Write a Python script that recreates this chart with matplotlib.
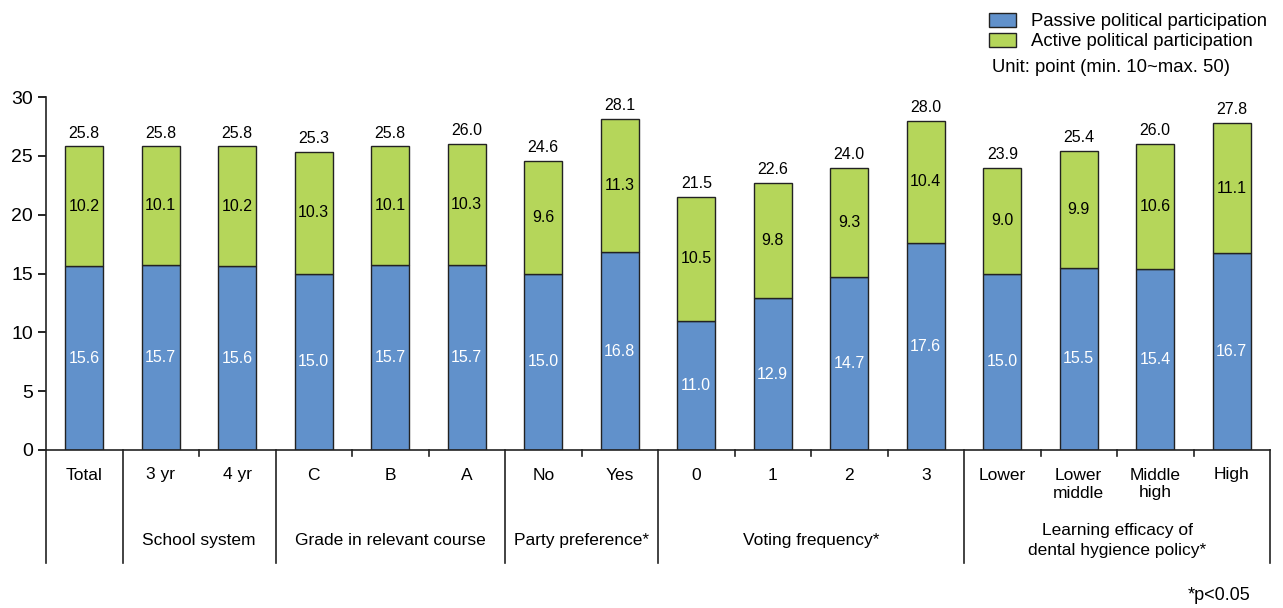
import numpy as np
import matplotlib.pyplot as plt

plt.rcParams['font.family'] = ['Liberation Sans', 'DejaVu Sans']

categories = ['Total', '3 yr', '4 yr', 'C', 'B', 'A', 'No', 'Yes', '0', '1', '2', '3',
              'Lower', 'Lower\nmiddle', 'Middle\nhigh', 'High']
passive = [15.6, 15.7, 15.6, 15.0, 15.7, 15.7, 15.0, 16.8, 11.0, 12.9, 14.7, 17.6,
           15.0, 15.5, 15.4, 16.7]
active = [10.2, 10.1, 10.2, 10.3, 10.1, 10.3, 9.6, 11.3, 10.5, 9.8, 9.3, 10.4,
          9.0, 9.9, 10.6, 11.1]
totals = [25.8, 25.8, 25.8, 25.3, 25.8, 26.0, 24.6, 28.1, 21.5, 22.6, 24.0, 28.0,
          23.9, 25.4, 26.0, 27.8]
groups = ['', 'School system', 'Grade in relevant course', 'Party preference*',
          'Voting frequency*', 'Learning efficacy of\ndental hygience policy*']
group_sizes = [1, 2, 3, 2, 4, 4]

blue = '#6191cb'
green = '#b5d65a'

fig = plt.figure(figsize=(12.83, 6.08), dpi=100)
ax = fig.add_axes([46 / 1283, 1 - 450 / 608, (1270 - 46) / 1283, 353 / 608])

x = np.arange(len(categories))
ax.bar(x, passive, width=0.5, color=blue, edgecolor='#222222', linewidth=1, label='Passive political participation')
ax.bar(x, active, width=0.5, bottom=passive, color=green, edgecolor='#222222', linewidth=1,
       label='Active political participation')

for i in range(len(categories)):
    ax.text(x[i], passive[i] / 2, f'{passive[i]:.1f}', ha='center', va='center', color='white', fontsize=11.5)
    ax.text(x[i], passive[i] + active[i] / 2, f'{active[i]:.1f}', ha='center', va='center', color='black', fontsize=11.5)
    ax.text(x[i], passive[i] + active[i] + 0.5, f'{totals[i]:.1f}', ha='center', va='bottom', color='black', fontsize=11.5)

ax.set_xlim(-0.5, len(categories) - 0.5)
ax.set_ylim(0, 30)
ax.set_yticks(range(0, 31, 5))
ax.tick_params(axis='y', labelsize=14, length=6, width=1.2, direction='out')
ax.set_xticks([])
for s in ['top', 'right']:
    ax.spines[s].set_visible(False)
for s in ['left', 'bottom']:
    ax.spines[s].set_linewidth(1.2)
    ax.spines[s].set_color('#222222')

tr = ax.get_xaxis_transform()
# category labels, one text per line
for i, c in enumerate(categories):
    for j, line in enumerate(c.split('\n')):
        ax.text(x[i], (450 - 475 - 18 * j) / 353, line, transform=tr, ha='center', va='center', fontsize=12.5)

# group separators and labels
edge = -0.5
for g, n in zip(groups, group_sizes):
    ax.plot([edge, edge], [0, -0.32], transform=tr, color='#222222', lw=1.2, clip_on=False)
    for k in range(1, n):
        ax.plot([edge + k, edge + k], [0, -0.018], transform=tr, color='#222222', lw=1.2, clip_on=False)
    if g:
        ax.text(edge + n / 2, -0.257, g, transform=tr, ha='center', va='center', fontsize=12.5, linespacing=1.45)
    edge += n
ax.plot([edge, edge], [0, -0.32], transform=tr, color='#222222', lw=1.2, clip_on=False)

fig.legend(loc='upper left', bbox_to_anchor=(989 / 1283, 1 - 13 / 608), frameon=False, fontsize=13.3,
           handlelength=1.45, handleheight=0.75, handletextpad=0.85, labelspacing=0.15, borderpad=0, borderaxespad=0)
fig.text(992 / 1283, 1 - 68 / 608, 'Unit: point (min. 10~max. 50)', ha='left', va='center', fontsize=13.3)
fig.text(1250 / 1283, 1 - 596 / 608, '*p<0.05', ha='right', va='center', fontsize=13)

fig.savefig('out.png', dpi=100)
